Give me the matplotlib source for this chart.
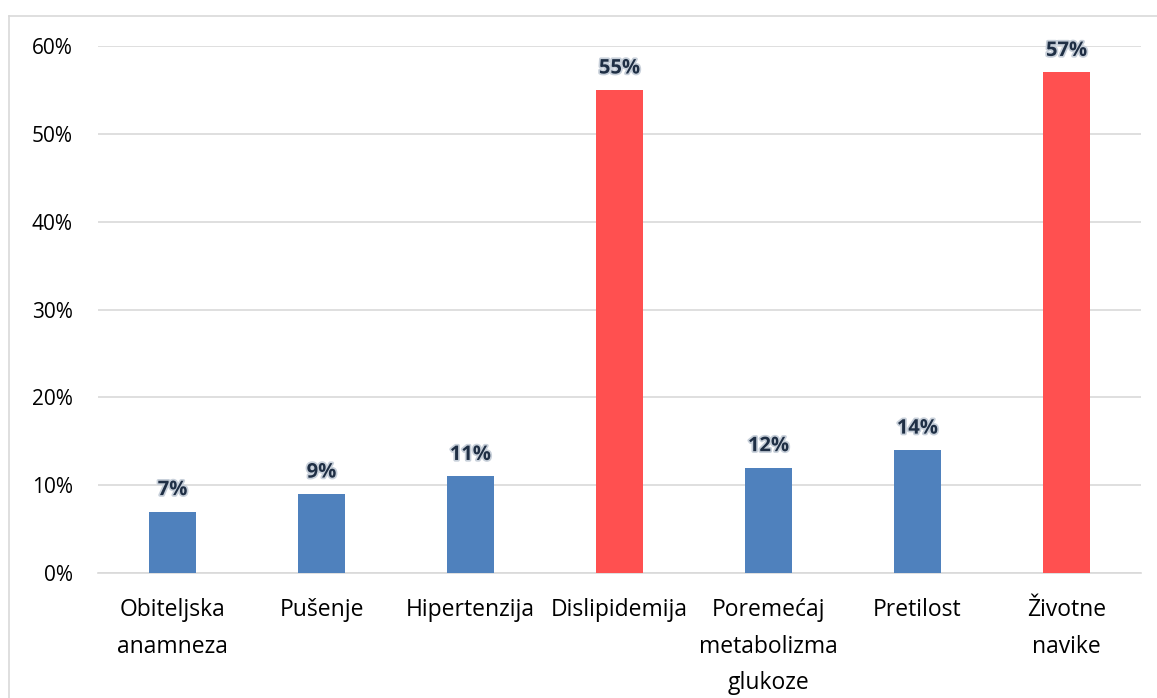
import matplotlib
matplotlib.use('Agg')
import matplotlib.pyplot as plt
import matplotlib.patheffects as pe
from matplotlib.ticker import PercentFormatter
from matplotlib.lines import Line2D

categories = ['Obiteljska\nanamneza', 'Pušenje', 'Hipertenzija', 'Dislipidemija',
              'Poremećaj\nmetabolizma\nglukoze', 'Pretilost', 'Životne\nnavike']
values = [7, 9, 11, 55, 12, 14, 57]
highlight = [False, False, False, True, False, False, True]

plt.rcParams['font.family'] = ['Open Sans', 'DejaVu Sans']

fig = plt.figure(figsize=(11.57, 6.98), dpi=100)
ax = fig.add_axes([98 / 1157, 1 - 573 / 698, (1141 - 98) / 1157, (573 - 46) / 698])

colors = ['#FF5050' if h else '#4F81BD' for h in highlight]
x = range(len(categories))
bars = ax.bar(x, values, width=0.32, color=colors, zorder=3)

for b, v in zip(bars, values):
    ax.text(b.get_x() + b.get_width() / 2, v + 1.3, f'{v}%', ha='center', va='bottom',
            fontsize=14.5, fontweight='bold', color='#1F2F45', clip_on=False, zorder=5,
            path_effects=[pe.withStroke(linewidth=2.5, foreground='#C8D0DA')])

ax.set_xlim(-0.5, len(categories) - 0.5)
ax.set_ylim(0, 60)
ax.set_yticks(range(0, 61, 10))
ax.yaxis.set_major_formatter(PercentFormatter(decimals=0))
ax.grid(axis='y', color='#D9D9D9', linewidth=1.2, zorder=0)
ax.set_xticks(list(x))
ax.set_xticklabels(categories, fontsize=16.5, linespacing=1.7)
ax.tick_params(axis='y', labelsize=15, length=0, pad=18)
ax.tick_params(axis='x', length=0, pad=18)
for s in ['top', 'right', 'left']:
    ax.spines[s].set_visible(False)
ax.spines['bottom'].set_color('#D9D9D9')
ax.spines['bottom'].set_linewidth(1.2)

# outer chart border (left and top visible)
fig.add_artist(Line2D([9 / 1157, 9 / 1157], [0, 1 - 16 / 698], color='#D9D9D9', lw=1.2))
fig.add_artist(Line2D([9 / 1157, 1], [1 - 16 / 698, 1 - 16 / 698], color='#D9D9D9', lw=1.2))

fig.savefig('out.png', dpi=100)
